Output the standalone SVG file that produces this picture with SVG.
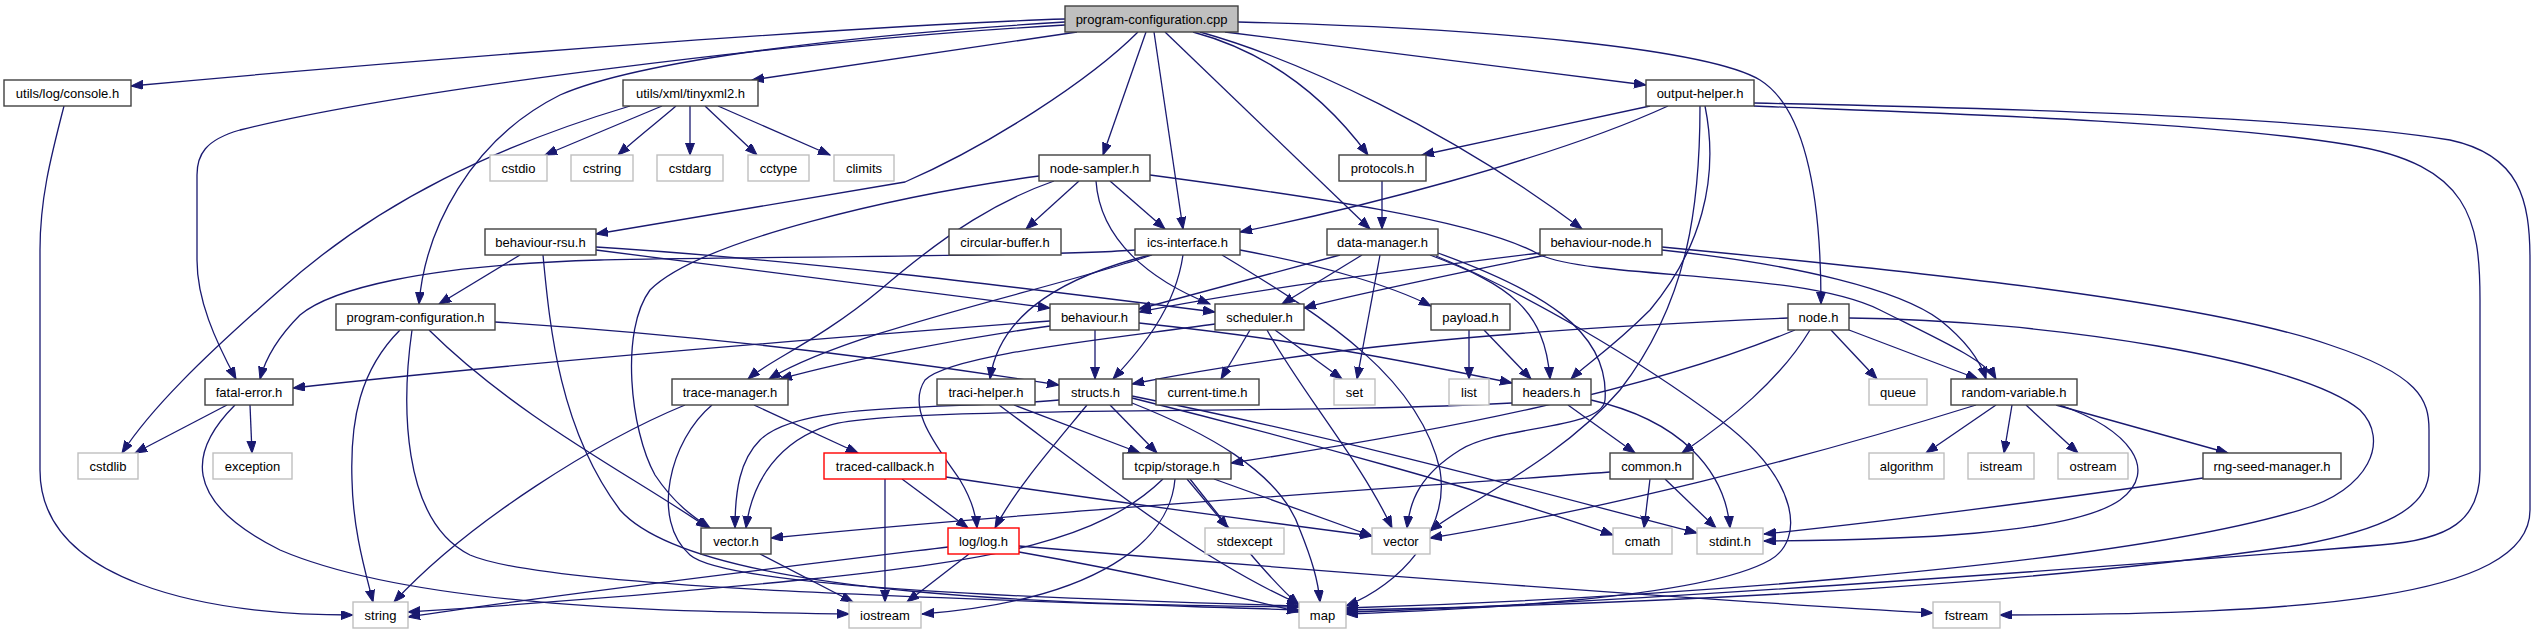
<svg xmlns="http://www.w3.org/2000/svg" width="2536" height="635" viewBox="0 0 2536 635">
<style>
.n rect{fill:#fff;stroke:#404040;stroke-width:1.4}
.g rect{fill:#fff;stroke:#bfbfbf;stroke-width:1.4}
.r rect{fill:#fff;stroke:#ff0000;stroke-width:1.4}
.root rect{fill:#bfbfbf;stroke:#404040;stroke-width:1.4}
text{font-family:"Liberation Sans",Arial,sans-serif;font-size:13px;text-anchor:middle;fill:#000}
#edges path{fill:none;stroke:#191970;stroke-width:1.3;marker-end:url(#a)}
</style>
<defs>
<marker id="a" markerUnits="userSpaceOnUse" markerWidth="13" markerHeight="10" refX="12" refY="4.5" orient="auto">
<path d="M0,0 L12,4.5 L0,9 Z" fill="#191970" stroke="#191970" stroke-width="1"/>
</marker>
</defs>
<rect width="2536" height="635" fill="#fff"/>
<g id="edges">
<path d="M1065,19 C900,24 500,52 131,86"/>
<path d="M1077,32 L752,80"/>
<path d="M1065,25 C800,40 400,90 240,130 C205,140 197,155 197,175 L197,260 C197,300 215,340 236,379"/>
<path d="M1065,22 C850,35 640,60 560,95 C470,140 425,230 419,304"/>
<path d="M1138,32 C1090,80 990,145 905,182 L596,234"/>
<path d="M1146,32 L1103,155"/>
<path d="M1154,32 L1183,229"/>
<path d="M1165,32 L1370,229"/>
<path d="M1193,32 C1260,50 1320,90 1368,155"/>
<path d="M1200,32 C1300,60 1450,130 1582,229"/>
<path d="M1225,32 L1646,85"/>
<path d="M1238,22 C1500,28 1710,50 1760,80 C1800,105 1821,180 1821,304"/>
<path d="M662,106 L545,155"/>
<path d="M676,106 C660,120 640,135 618,155"/>
<path d="M690,106 L690,155"/>
<path d="M705,106 L757,155"/>
<path d="M718,106 L830,155"/>
<path d="M630,106 C500,145 380,200 280,290 C200,360 150,410 122,453"/>
<path d="M64,106 C50,160 40,200 40,250 L40,470 C40,580 200,615 353,615"/>
<path d="M227,405 L135,453"/>
<path d="M250,405 L252,453"/>
<path d="M235,405 C190,450 180,500 280,550 C420,610 700,612 849,614"/>
<path d="M400,330 C360,370 350,420 352,480 C353,530 365,570 373,602"/>
<path d="M412,330 C402,400 400,520 470,555 C550,590 1000,600 1299,610"/>
<path d="M429,330 C520,420 640,480 708,528"/>
<path d="M495,322 C700,335 900,360 1059,385"/>
<path d="M520,255 L439,304"/>
<path d="M543,255 C550,330 560,430 620,510 C700,600 1100,605 1299,607"/>
<path d="M596,250 C750,270 900,290 1050,308"/>
<path d="M596,247 C800,260 1000,285 1215,312"/>
<path d="M1079,181 L1026,229"/>
<path d="M1110,181 L1165,229"/>
<path d="M1096,181 C1100,240 1150,280 1210,304"/>
<path d="M1039,176 C900,195 700,240 650,290 C620,330 630,430 655,475 C675,505 695,518 710,528"/>
<path d="M1054,181 C1000,200 950,230 880,290 C820,340 770,360 748,379"/>
<path d="M1150,175 C1300,195 1480,220 1540,255 C1600,280 1800,270 1880,310 C1940,340 1985,360 1996,379"/>
<path d="M1135,250 C1050,257 700,257 600,260 C420,265 330,290 300,315 C275,340 265,360 260,379"/>
<path d="M1152,255 C1050,290 850,330 769,379"/>
<path d="M1150,255 C1070,275 1000,310 990,379"/>
<path d="M1183,255 C1175,310 1140,350 1113,379"/>
<path d="M1240,250 C1320,265 1390,285 1431,306"/>
<path d="M1222,255 C1330,320 1420,380 1440,470 C1450,530 1400,585 1346,606"/>
<path d="M1340,255 L1139,309"/>
<path d="M1362,255 L1282,304"/>
<path d="M1380,255 L1357,379"/>
<path d="M1430,255 C1510,285 1545,310 1550,379"/>
<path d="M1438,253 C1540,290 1610,330 1605,400 C1602,430 1500,425 1460,450 C1420,475 1410,500 1407,528"/>
<path d="M1436,256 C1520,290 1640,360 1720,420 C1800,480 1805,540 1770,560 C1700,600 1450,610 1346,614"/>
<path d="M1382,181 L1382,229"/>
<path d="M1650,106 L1422,155"/>
<path d="M1668,106 C1550,160 1350,210 1240,232"/>
<path d="M1705,106 C1720,180 1700,250 1650,310 C1610,350 1585,365 1571,379"/>
<path d="M1700,106 C1700,200 1690,300 1620,390 C1560,460 1470,500 1430,531"/>
<path d="M1754,106 C1900,112 2200,120 2350,145 C2470,165 2480,220 2480,300 L2480,470 C2480,520 2450,540 2380,545 C2200,560 1600,605 1346,612"/>
<path d="M1754,103 C1950,107 2300,115 2450,140 C2520,155 2530,200 2530,260 L2530,510 C2530,600 2300,614 2000,615"/>
<path d="M1540,253 C1400,270 1250,290 1139,312"/>
<path d="M1546,255 C1450,275 1350,295 1304,308"/>
<path d="M1662,250 C1800,265 1900,290 1940,320 C1965,340 1980,360 1986,379"/>
<path d="M1662,247 C1900,270 2200,300 2330,345 C2420,375 2429,400 2429,430 L2429,470 C2429,510 2380,530 2300,545 C2000,590 1600,605 1346,610"/>
<path d="M1788,318 C1500,330 1300,350 1132,384"/>
<path d="M1795,330 C1650,390 1450,430 1231,463"/>
<path d="M1810,330 C1780,380 1730,420 1682,453"/>
<path d="M1831,330 L1877,379"/>
<path d="M1849,330 L1978,379"/>
<path d="M1849,318 C2050,320 2300,360 2360,410 C2390,440 2370,490 2300,510 C2100,570 1600,600 1346,608"/>
<path d="M1469,330 L1469,379"/>
<path d="M1484,330 L1531,379"/>
<path d="M1050,321 C800,340 500,365 293,388"/>
<path d="M1050,326 C950,340 850,360 780,379"/>
<path d="M1095,330 L1095,379"/>
<path d="M1139,323 C1300,340 1400,360 1512,383"/>
<path d="M1250,330 L1221,379"/>
<path d="M1275,330 L1342,379"/>
<path d="M1267,330 C1300,390 1360,460 1392,528"/>
<path d="M1215,324 C1100,340 950,355 925,380 C905,410 940,450 960,480 C972,500 976,515 977,528"/>
<path d="M1059,400 C950,410 800,400 760,440 C740,460 735,490 735,528"/>
<path d="M1087,405 C1050,450 1015,490 995,528"/>
<path d="M1110,405 L1157,453"/>
<path d="M1132,403 C1200,430 1280,470 1300,530 C1312,560 1318,580 1320,602"/>
<path d="M1132,398 C1300,440 1500,495 1613,535"/>
<path d="M1132,396 C1350,440 1550,495 1697,533"/>
<path d="M1014,405 L1140,453"/>
<path d="M999,405 C1100,480 1200,560 1299,604"/>
<path d="M754,405 L858,453"/>
<path d="M685,405 C600,440 470,520 394,602"/>
<path d="M712,405 C670,440 650,520 690,555 C730,590 1100,600 1299,606"/>
<path d="M885,479 L885,602"/>
<path d="M902,479 L968,528"/>
<path d="M946,477 C1100,500 1250,520 1372,536"/>
<path d="M1163,479 C1100,540 1000,560 800,580 C600,600 470,608 408,612"/>
<path d="M1175,479 C1170,540 1100,600 922,614"/>
<path d="M1190,479 C1230,530 1270,580 1299,605"/>
<path d="M1187,479 L1228,528"/>
<path d="M1214,479 L1372,536"/>
<path d="M760,554 L853,602"/>
<path d="M969,554 L907,602"/>
<path d="M948,547 C800,565 550,595 408,617"/>
<path d="M1019,552 C1150,575 1230,595 1299,612"/>
<path d="M1019,546 C1300,570 1700,600 1933,613"/>
<path d="M1610,472 C1300,495 1000,515 771,538"/>
<path d="M1650,479 L1644,528"/>
<path d="M1665,479 L1716,528"/>
<path d="M1512,403 C1300,415 900,405 830,425 C780,440 752,480 746,528"/>
<path d="M1568,405 L1635,453"/>
<path d="M1591,400 C1680,420 1725,470 1730,528"/>
<path d="M1996,405 L1926,453"/>
<path d="M2012,405 L2004,453"/>
<path d="M2026,405 L2078,453"/>
<path d="M2056,405 L2228,453"/>
<path d="M2060,405 C2130,430 2160,470 2120,500 C2070,535 1900,540 1764,541"/>
<path d="M1976,405 C1800,460 1600,510 1430,538"/>
<path d="M2203,478 C2050,500 1900,520 1764,534"/>
</g>
<g id="n-root" class="root"><rect x="1065" y="6" width="173" height="26"/><text x="1151.5" y="24">program-configuration.cpp</text></g>
<g id="n-console" class="n"><rect x="4" y="80" width="127" height="26"/><text x="67.5" y="98">utils/log/console.h</text></g>
<g id="n-tinyxml2" class="n"><rect x="623" y="80" width="135" height="26"/><text x="690.5" y="98">utils/xml/tinyxml2.h</text></g>
<g id="n-output-helper" class="n"><rect x="1646" y="80" width="108" height="26"/><text x="1700" y="98">output-helper.h</text></g>
<g id="n-cstdio" class="g"><rect x="490" y="155" width="57" height="26"/><text x="518.5" y="173">cstdio</text></g>
<g id="n-cstring" class="g"><rect x="571" y="155" width="62" height="26"/><text x="602" y="173">cstring</text></g>
<g id="n-cstdarg" class="g"><rect x="657" y="155" width="66" height="26"/><text x="690" y="173">cstdarg</text></g>
<g id="n-cctype" class="g"><rect x="748" y="155" width="61" height="26"/><text x="778.5" y="173">cctype</text></g>
<g id="n-climits" class="g"><rect x="834" y="155" width="60" height="26"/><text x="864" y="173">climits</text></g>
<g id="n-node-sampler" class="n"><rect x="1039" y="155" width="111" height="26"/><text x="1094.5" y="173">node-sampler.h</text></g>
<g id="n-protocols" class="n"><rect x="1339" y="155" width="87" height="26"/><text x="1382.5" y="173">protocols.h</text></g>
<g id="n-behaviour-rsu" class="n"><rect x="485" y="229" width="111" height="26"/><text x="540.5" y="247">behaviour-rsu.h</text></g>
<g id="n-circular-buffer" class="n"><rect x="949" y="229" width="112" height="26"/><text x="1005" y="247">circular-buffer.h</text></g>
<g id="n-ics-interface" class="n"><rect x="1135" y="229" width="105" height="26"/><text x="1187.5" y="247">ics-interface.h</text></g>
<g id="n-data-manager" class="n"><rect x="1327" y="229" width="111" height="26"/><text x="1382.5" y="247">data-manager.h</text></g>
<g id="n-behaviour-node" class="n"><rect x="1540" y="229" width="122" height="26"/><text x="1601" y="247">behaviour-node.h</text></g>
<g id="n-program-configuration-h" class="n"><rect x="336" y="304" width="159" height="26"/><text x="415.5" y="322">program-configuration.h</text></g>
<g id="n-behaviour" class="n"><rect x="1050" y="304" width="89" height="26"/><text x="1094.5" y="322">behaviour.h</text></g>
<g id="n-scheduler" class="n"><rect x="1215" y="304" width="89" height="26"/><text x="1259.5" y="322">scheduler.h</text></g>
<g id="n-payload" class="n"><rect x="1431" y="304" width="79" height="26"/><text x="1470.5" y="322">payload.h</text></g>
<g id="n-node" class="n"><rect x="1788" y="304" width="61" height="26"/><text x="1818.5" y="322">node.h</text></g>
<g id="n-fatal-error" class="n"><rect x="205" y="379" width="88" height="26"/><text x="249" y="397">fatal-error.h</text></g>
<g id="n-trace-manager" class="n"><rect x="672" y="379" width="116" height="26"/><text x="730" y="397">trace-manager.h</text></g>
<g id="n-traci-helper" class="n"><rect x="937" y="379" width="98" height="26"/><text x="986" y="397">traci-helper.h</text></g>
<g id="n-structs" class="n"><rect x="1059" y="379" width="73" height="26"/><text x="1095.5" y="397">structs.h</text></g>
<g id="n-current-time" class="n"><rect x="1156" y="379" width="103" height="26"/><text x="1207.5" y="397">current-time.h</text></g>
<g id="n-set" class="g"><rect x="1334" y="379" width="41" height="26"/><text x="1354.5" y="397">set</text></g>
<g id="n-list" class="g"><rect x="1449" y="379" width="40" height="26"/><text x="1469" y="397">list</text></g>
<g id="n-headers" class="n"><rect x="1512" y="379" width="79" height="26"/><text x="1551.5" y="397">headers.h</text></g>
<g id="n-queue" class="g"><rect x="1869" y="379" width="58" height="26"/><text x="1898" y="397">queue</text></g>
<g id="n-random-variable" class="n"><rect x="1951" y="379" width="126" height="26"/><text x="2014" y="397">random-variable.h</text></g>
<g id="n-cstdlib" class="g"><rect x="78" y="453" width="60" height="26"/><text x="108" y="471">cstdlib</text></g>
<g id="n-exception" class="g"><rect x="213" y="453" width="79" height="26"/><text x="252.5" y="471">exception</text></g>
<g id="n-traced-callback" class="r"><rect x="824" y="453" width="122" height="26"/><text x="885" y="471">traced-callback.h</text></g>
<g id="n-storage" class="n"><rect x="1123" y="453" width="108" height="26"/><text x="1177" y="471">tcpip/storage.h</text></g>
<g id="n-common" class="n"><rect x="1610" y="453" width="83" height="26"/><text x="1651.5" y="471">common.h</text></g>
<g id="n-algorithm" class="g"><rect x="1869" y="453" width="75" height="26"/><text x="1906.5" y="471">algorithm</text></g>
<g id="n-istream" class="g"><rect x="1968" y="453" width="66" height="26"/><text x="2001" y="471">istream</text></g>
<g id="n-ostream" class="g"><rect x="2058" y="453" width="70" height="26"/><text x="2093" y="471">ostream</text></g>
<g id="n-rng-seed-manager" class="n"><rect x="2203" y="453" width="138" height="26"/><text x="2272" y="471">rng-seed-manager.h</text></g>
<g id="n-vector-h" class="n"><rect x="701" y="528" width="70" height="26"/><text x="736" y="546">vector.h</text></g>
<g id="n-log" class="r"><rect x="948" y="528" width="71" height="26"/><text x="983.5" y="546">log/log.h</text></g>
<g id="n-stdexcept" class="g"><rect x="1205" y="528" width="79" height="26"/><text x="1244.5" y="546">stdexcept</text></g>
<g id="n-vector" class="g"><rect x="1372" y="528" width="58" height="26"/><text x="1401" y="546">vector</text></g>
<g id="n-cmath" class="g"><rect x="1613" y="528" width="59" height="26"/><text x="1642.5" y="546">cmath</text></g>
<g id="n-stdint" class="g"><rect x="1697" y="528" width="66" height="26"/><text x="1730" y="546">stdint.h</text></g>
<g id="n-string" class="g"><rect x="353" y="602" width="55" height="26"/><text x="380.5" y="620">string</text></g>
<g id="n-iostream" class="g"><rect x="849" y="602" width="72" height="26"/><text x="885" y="620">iostream</text></g>
<g id="n-map" class="g"><rect x="1299" y="602" width="47" height="26"/><text x="1322.5" y="620">map</text></g>
<g id="n-fstream" class="g"><rect x="1933" y="602" width="67" height="26"/><text x="1966.5" y="620">fstream</text></g>
</svg>
